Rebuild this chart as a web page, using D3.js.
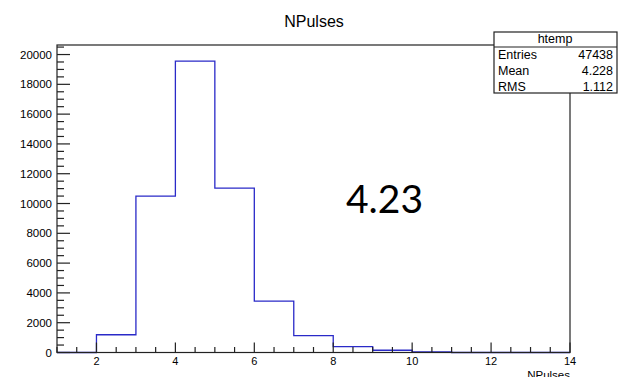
<!DOCTYPE html>
<html>
<head>
<meta charset="utf-8">
<script src="https://cdn.jsdelivr.net/npm/d3@7"></script>
<style>
  body { margin: 0; background: #fff; }
  text { font-family: "Liberation Sans", Arial, sans-serif; fill: #000; }
  text.big { font-family: Lato, "Open Sans", sans-serif; }
</style>
</head>
<body>
<svg id="hist" width="618" height="377"></svg>
<script>
// histogram data, bin lower edges and contents
var binLo = [1, 2, 3, 4, 5, 6, 7, 8, 9, 10, 11, 12, 13];
var binWidth = 1;
var counts = [0, 1190, 10500, 19560, 11030, 3450, 1130, 390, 150, 35, 0, 0, 0];
var xTicks = [2, 4, 6, 8, 10, 12, 14];
var yTicks = [0, 2000, 4000, 6000, 8000, 10000, 12000, 14000, 16000, 18000, 20000];
var statNames = ["Entries", "Mean", "RMS"];
var statValues = ["47438", "4.228", "1.112"];
var bigLabel = "4.23";

var svg = d3.select("#hist");

// frame box
var fLeft = 57, fRight = 570, fTop = 45, fBottom = 352.5;

var x = d3.scaleLinear().domain([1, 14]).range([fLeft, fRight]);
var y = d3.scaleLinear().domain([0, 20640]).range([fBottom, fTop]);

// title
svg.append("text")
  .attr("x", 314).attr("y", 26.5)
  .attr("text-anchor", "middle")
  .attr("font-size", 16)
  .text("NPulses");

// histogram outline (step)
var pts = binLo.map(function(d, i) { return {x: d, y: counts[i]}; });
pts.push({x: binLo[binLo.length - 1] + binWidth, y: counts[counts.length - 1]});

var line = d3.line()
  .x(d => x(d.x))
  .y(d => y(d.y))
  .curve(d3.curveStepAfter);

svg.append("path")
  .datum(pts)
  .attr("d", line)
  .attr("fill", "none")
  .attr("stroke", "#2a2ac8")
  .attr("stroke-width", 1.3);

// frame
svg.append("rect")
  .attr("x", fLeft).attr("y", fTop)
  .attr("width", fRight - fLeft).attr("height", fBottom - fTop)
  .attr("fill", "none")
  .attr("stroke", "#222")
  .attr("stroke-width", 1.2);

// x axis ticks (ticks go up from the axis)
var gx = svg.append("g").attr("stroke", "#222").attr("stroke-width", 1.2);
d3.range(1, 14.01, 0.5).forEach(function(v) {
  var major = xTicks.indexOf(v) >= 0;
  gx.append("line")
    .attr("x1", x(v)).attr("x2", x(v))
    .attr("y1", fBottom).attr("y2", fBottom - (major ? 10 : 5.5));
});
svg.append("g").selectAll("text")
  .data(xTicks)
  .enter().append("text")
  .attr("x", d => x(d)).attr("y", 364.5)
  .attr("text-anchor", "middle")
  .attr("font-size", 11)
  .text(d => d);

// y axis ticks (ticks go right from the axis)
var gy = svg.append("g").attr("stroke", "#222").attr("stroke-width", 1.2);
d3.range(0, 20501, 500).forEach(function(v) {
  var major = v % 2000 == 0;
  gy.append("line")
    .attr("x1", fLeft).attr("x2", fLeft + (major ? 13 : 7))
    .attr("y1", y(v)).attr("y2", y(v));
});
svg.append("g").selectAll("text")
  .data(yTicks)
  .enter().append("text")
  .attr("x", 52).attr("y", d => y(d) + 4)
  .attr("text-anchor", "end")
  .attr("font-size", 11.5)
  .text(d => d);

// axis title
svg.append("text")
  .attr("x", 570).attr("y", 379)
  .attr("text-anchor", "end")
  .attr("font-size", 11.5)
  .text("NPulses");

// stats box
var bx = 494, by = 32, bw = 123, bh = 61;
var sb = svg.append("g");
sb.append("rect")
  .attr("x", bx).attr("y", by).attr("width", bw).attr("height", bh)
  .attr("fill", "#fff").attr("stroke", "#222").attr("stroke-width", 1.2);
sb.append("line")
  .attr("x1", bx).attr("x2", bx + bw)
  .attr("y1", 47).attr("y2", 47)
  .attr("stroke", "#222").attr("stroke-width", 1.2);
sb.append("text")
  .attr("x", 555).attr("y", 42.5)
  .attr("text-anchor", "middle")
  .attr("font-size", 12.5)
  .text("htemp");
statNames.forEach(function(n, i) {
  sb.append("text")
    .attr("x", 498).attr("y", 59 + i * 16)
    .attr("font-size", 12.5)
    .text(n);
  sb.append("text")
    .attr("x", 613).attr("y", 59 + i * 16)
    .attr("text-anchor", "end")
    .attr("font-size", 12.5)
    .text(statValues[i]);
});

// big mean label
svg.append("text")
  .attr("class", "big")
  .attr("x", 346).attr("y", 212.5)
  .attr("font-size", 39)
  .text(bigLabel);
</script>
</body>
</html>
